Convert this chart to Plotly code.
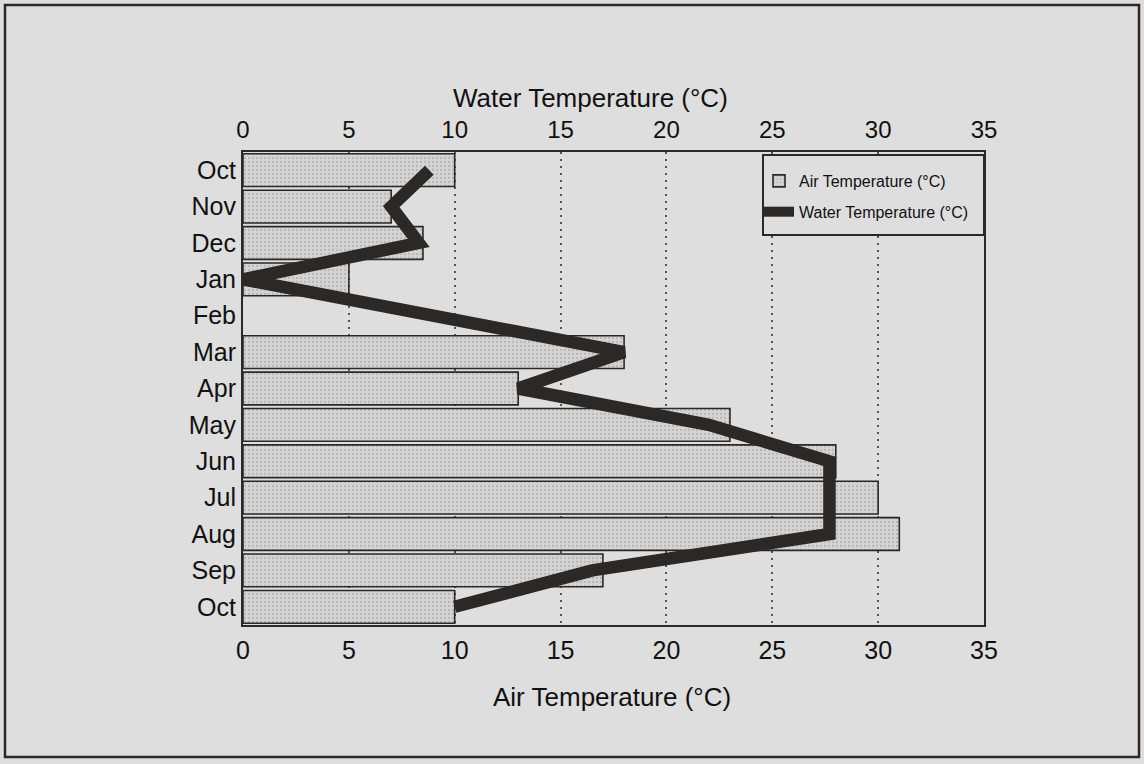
import plotly.graph_objects as go

months = ["Oct", "Nov", "Dec", "Jan", "Feb", "Mar", "Apr", "May", "Jun", "Jul", "Aug", "Sep", "Oct"]
air_temp = [10, 7, 8.5, 5, None, 18, 13, 23, 28, 30, 31, 17, 10]
water_temp = [8.8, 7, 8.3, 0, None, 18, 13, 22, 27.7, 27.7, 27.7, 16.5, 10]
x_ticks = [0, 5, 10, 15, 20, 25, 30, 35]
air_title = "Air Temperature (°C)"
water_title = "Water Temperature (°C)"

pos = list(range(len(months)))
BG = "#dedede"
INK = "#2b2826"
FONT = "Liberation Sans, Arial, Helvetica, sans-serif"

fig = go.Figure()
fig.add_trace(go.Bar(
    y=pos, x=air_temp, orientation="h", name=air_title,
    legendgroup="a",
    marker=dict(color="#d0d0d0", line=dict(color=INK, width=1.6),
                pattern=dict(shape=".", fgcolor="#9a9a9a", bgcolor="#d4d4d4", size=4, solidity=0.25)),
    width=0.9, xaxis="x", yaxis="y",
))
fig.add_trace(go.Scatter(
    y=pos, x=water_temp, mode="lines", name=water_title,
    legendgroup="b",
    line=dict(color=INK, width=12.5), connectgaps=True, xaxis="x2", yaxis="y",
))

L, R, T, B = 243, 984, 152, 625
W, H = 1144, 764
pw, ph = R - L, B - T

fig.update_layout(
    width=W, height=H,
    margin=dict(l=L, r=W - R, t=T, b=H - B),
    paper_bgcolor=BG, plot_bgcolor=BG,
    font=dict(family=FONT, color="#111111", size=22),
    showlegend=True,
    legend=dict(x=(759 - L) / pw, y=(B - 164) / ph, xanchor="left", yanchor="top",
                bgcolor="rgba(0,0,0,0)", borderwidth=0,
                font=dict(size=16, family=FONT), traceorder="grouped", tracegroupgap=7,
                itemwidth=30),
    xaxis=dict(range=[0, 35], tickvals=x_ticks, showgrid=True, gridcolor="#555555",
               griddash="2px,5px", gridwidth=1.5, zeroline=False, showline=True,
               linecolor=INK, linewidth=2, mirror=True, ticks="",
               tickfont=dict(size=25), ticklabelstandoff=2),
    xaxis2=dict(range=[0, 35], tickvals=x_ticks, overlaying="x", side="top",
                showgrid=False, zeroline=False, showline=False, ticks="",
                tickfont=dict(size=24), ticklabelstandoff=8),
    yaxis=dict(range=[12.5, -0.5], tickvals=pos, ticktext=months, showgrid=False,
               zeroline=False, showline=True, linecolor=INK, linewidth=2, mirror=True,
               ticks="", tickfont=dict(size=25), ticklabelstandoff=0),
    bargap=0.1,
)

# axis titles
fig.add_annotation(text=water_title, xref="paper", yref="paper",
                   x=(590 - L) / pw, y=(B - 98) / ph, xanchor="center", yanchor="middle",
                   showarrow=False, font=dict(size=26, family=FONT, color="#111111"))
fig.add_annotation(text=air_title, xref="paper", yref="paper",
                   x=(612 - L) / pw, y=(B - 697) / ph, xanchor="center", yanchor="middle",
                   showarrow=False, font=dict(size=26, family=FONT, color="#111111"))

# outer frame of the figure
fig.add_shape(type="rect", xref="paper", yref="paper",
              x0=(5 - L) / pw, x1=(1139 - L) / pw,
              y0=(B - 757) / ph, y1=(B - 5) / ph,
              line=dict(color=INK, width=2.5), fillcolor="rgba(0,0,0,0)", layer="below")
# legend box
fig.add_shape(type="rect", xref="paper", yref="paper",
              x0=(763 - L) / pw, x1=1.0,
              y0=(B - 235) / ph, y1=(B - 155) / ph,
              line=dict(color=INK, width=2), fillcolor=BG, layer="above")

fig.write_html("out.html", config={"displayModeBar": False},
               post_script="document.body.style.margin='0';document.body.style.background='#dedede';")
